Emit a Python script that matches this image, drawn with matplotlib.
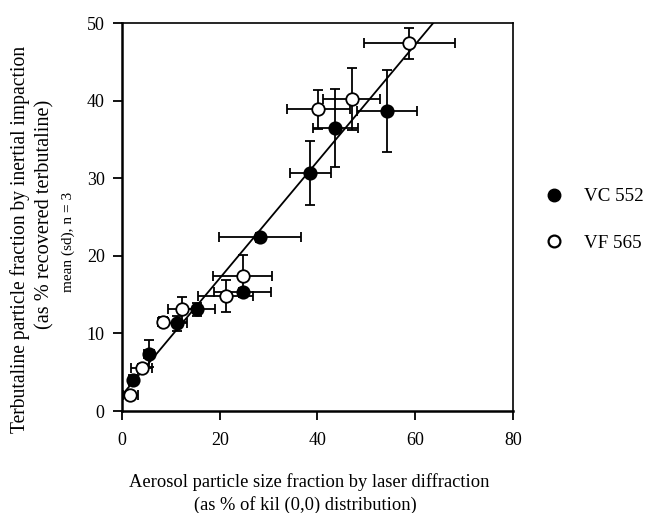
import matplotlib
matplotlib.use("Agg")
import matplotlib.pyplot as plt
from matplotlib.lines import Line2D
import numpy as np

plt.rcParams['font.family'] = ['Liberation Serif', 'DejaVu Serif']

# VC 552 (filled)
vc_x = [2.2, 5.6, 11.2, 15.3, 24.7, 28.2, 38.5, 43.6, 54.2]
vc_y = [4.0, 7.4, 11.3, 13.1, 15.3, 22.4, 30.7, 36.5, 38.7]
vc_xerr = [0.8, 1.0, 2.0, 3.7, 5.8, 8.4, 4.2, 4.6, 6.2]
vc_yerr = [0.6, 1.7, 1.0, 0.8, 0.6, 0.6, 4.1, 5.0, 5.3]

# VF 565 (open)
vf_x = [1.7, 4.0, 8.4, 12.2, 21.2, 24.7, 40.2, 47.0, 58.8]
vf_y = [2.0, 5.5, 11.5, 13.1, 14.8, 17.4, 38.9, 40.2, 47.4]
vf_xerr = [1.5, 2.2, 1.0, 2.8, 5.6, 6.0, 6.4, 5.8, 9.3]
vf_yerr = [0.5, 0.6, 0.6, 1.6, 2.1, 2.7, 2.5, 4.0, 2.0]

fit_slope = 0.753
fit_intercept = 2.05

x_ticks = [0, 20, 40, 60, 80]
y_ticks = [0, 10, 20, 30, 40, 50]

fig = plt.figure(figsize=(6.5, 5.13), dpi=100)
ax = fig.add_axes([0.1877, 0.1988, 0.6015, 0.7563])

eb = dict(fmt='none', ecolor='black', elinewidth=1.3, capsize=3.5, capthick=1.3, zorder=2)
ax.errorbar(vc_x, vc_y, xerr=vc_xerr, yerr=vc_yerr, **eb)
ax.errorbar(vf_x, vf_y, xerr=vf_xerr, yerr=vf_yerr, **eb)

x_end = (50 - fit_intercept) / fit_slope
xs = np.array([0, x_end])
ax.plot(xs, fit_slope * xs + fit_intercept, color='black', lw=1.3, zorder=3)

ax.plot(vc_x, vc_y, 'o', ms=9, mfc='black', mec='black', mew=1.2, zorder=4)
ax.plot(vf_x, vf_y, 'o', ms=9, mfc='white', mec='black', mew=1.3, zorder=4)

ax.set_xlim(0, 80)
ax.set_ylim(0, 50)
ax.set_xticks(x_ticks)
ax.set_yticks(y_ticks)
ax.tick_params(direction='out', length=6.5, width=1.3, labelsize=13)
ax.tick_params(axis='x', pad=8.5)
ax.tick_params(axis='y', pad=6)
for side in ['left', 'bottom']:
    ax.spines[side].set_linewidth(1.8)
for side in ['top', 'right']:
    ax.spines[side].set_linewidth(1.2)

# x label
fig.text(309 / 650, 1 - 482 / 513, 'Aerosol particle size fraction by laser diffraction',
         ha='center', va='center', fontsize=13.3)
fig.text(305 / 650, 1 - 505 / 513, '(as % of kil (0,0) distribution)',
         ha='center', va='center', fontsize=13.3)

# y label
fig.text(20 / 650, 1 - 239.5 / 513, 'Terbutaline particle fraction by inertial impaction',
         ha='center', va='center', rotation=90, fontsize=14.1)
fig.text(45 / 650, 1 - 214 / 513, '(as % recovered terbutaline)',
         ha='center', va='center', rotation=90, fontsize=14.6)
fig.text(68 / 650, 1 - 241.5 / 513, 'mean (sd), n = 3',
         ha='center', va='center', rotation=90, fontsize=11)

handles = [Line2D([], [], ls='none', marker='o', ms=9, mfc='black', mec='black'),
           Line2D([], [], ls='none', marker='o', ms=8.5, mfc='white', mec='black', mew=1.6)]
fig.legend(handles, ['VC 552', 'VF 565'], loc='center left',
           bbox_to_anchor=(527 / 650, 1 - 220 / 513), frameon=False,
           fontsize=13.7, labelspacing=1.55, handlelength=1.0, handletextpad=1.1)

fig.savefig('out.png', dpi=100)
